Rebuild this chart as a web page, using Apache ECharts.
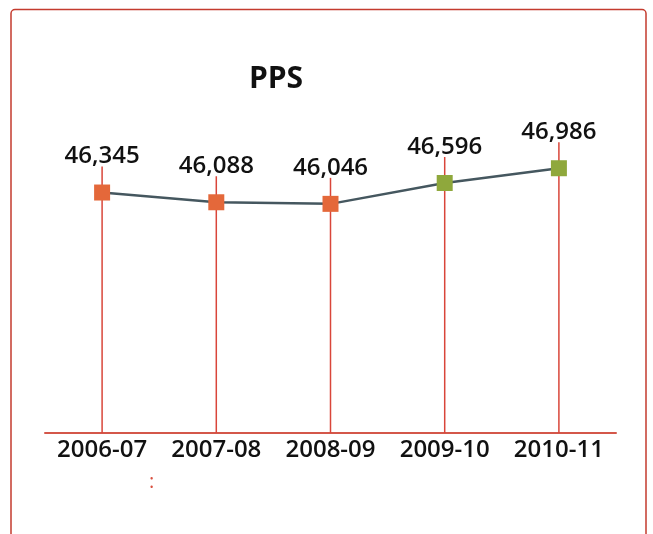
<!DOCTYPE html>
<html>
<head>
<meta charset="utf-8">
<script src="https://cdn.jsdelivr.net/npm/echarts@6/dist/echarts.min.js"></script>
<style>
html,body{margin:0;padding:0;background:#fff;}
#c{width:653px;height:534px;}
</style>
</head>
<body>
<div id="c"></div>
<script>
var categories = ['2006-07', '2007-08', '2008-09', '2009-10', '2010-11'];
var values = [46345, 46088, 46046, 46596, 46986];
var markerColors = ['#e4683a', '#e4683a', '#e4683a', '#8fa83c', '#8fa83c'];
var yMin = 40000;
var yMax = 50000;

var chart = echarts.init(document.getElementById('c'), null, {renderer: 'canvas'});
var font = '"Open Sans", "Noto Sans", sans-serif';

chart.setOption({
  animation: false,
  backgroundColor: '#fff',
  graphic: [
    {
      type: 'rect',
      shape: {x: 11, y: 9.5, width: 635, height: 560, r: 4},
      style: {fill: 'none', stroke: '#c43b2e', lineWidth: 1.5},
      z: 0
    },
    {
      type: 'text',
      left: 149, top: 472,
      style: {text: ':', fill: '#d9503f', font: '20px ' + font}
    }
  ],
  title: {
    text: 'PPS',
    left: 271, top: 59,
    textAlign: 'center',
    textStyle: {fontFamily: font, fontSize: 30, fontWeight: 'bold', color: '#111'}
  },
  grid: {left: 45, right: 37, top: 54, bottom: 101},
  xAxis: {
    type: 'category',
    data: categories,
    boundaryGap: true,
    axisLine: {lineStyle: {color: '#d4574a', width: 2}},
    axisTick: {show: false},
    axisLabel: {interval: 0, color: '#111', fontFamily: font, fontSize: 24, fontWeight: 600, margin: 5}
  },
  yAxis: {
    type: 'value',
    min: yMin, max: yMax,
    show: false,
    splitLine: {show: false}
  },
  series: [
    {
      type: 'custom',
      z: 1,
      data: values.map(function (v, i) { return [i, v]; }),
      renderItem: function (params, api) {
        var top = api.coord([api.value(0), api.value(1)]);
        var bottom = api.coord([api.value(0), yMin]);
        return {
          type: 'line',
          shape: {x1: top[0], y1: top[1] - 26, x2: bottom[0], y2: bottom[1]},
          style: {stroke: '#d9463a', lineWidth: 1.5}
        };
      }
    },
    {
      type: 'line',
      z: 3,
      data: values.map(function (v, i) {
        return {value: v, itemStyle: {color: markerColors[i]}};
      }),
      symbol: 'rect',
      symbolSize: 16,
      lineStyle: {color: '#45575f', width: 2.5},
      label: {
        show: true,
        position: 'top',
        distance: 16,
        color: '#111',
        fontFamily: font,
        fontSize: 24,
        fontWeight: 600,
        formatter: function (p) { return p.value.toLocaleString('en-US'); }
      }
    }
  ]
});
</script>
</body>
</html>
